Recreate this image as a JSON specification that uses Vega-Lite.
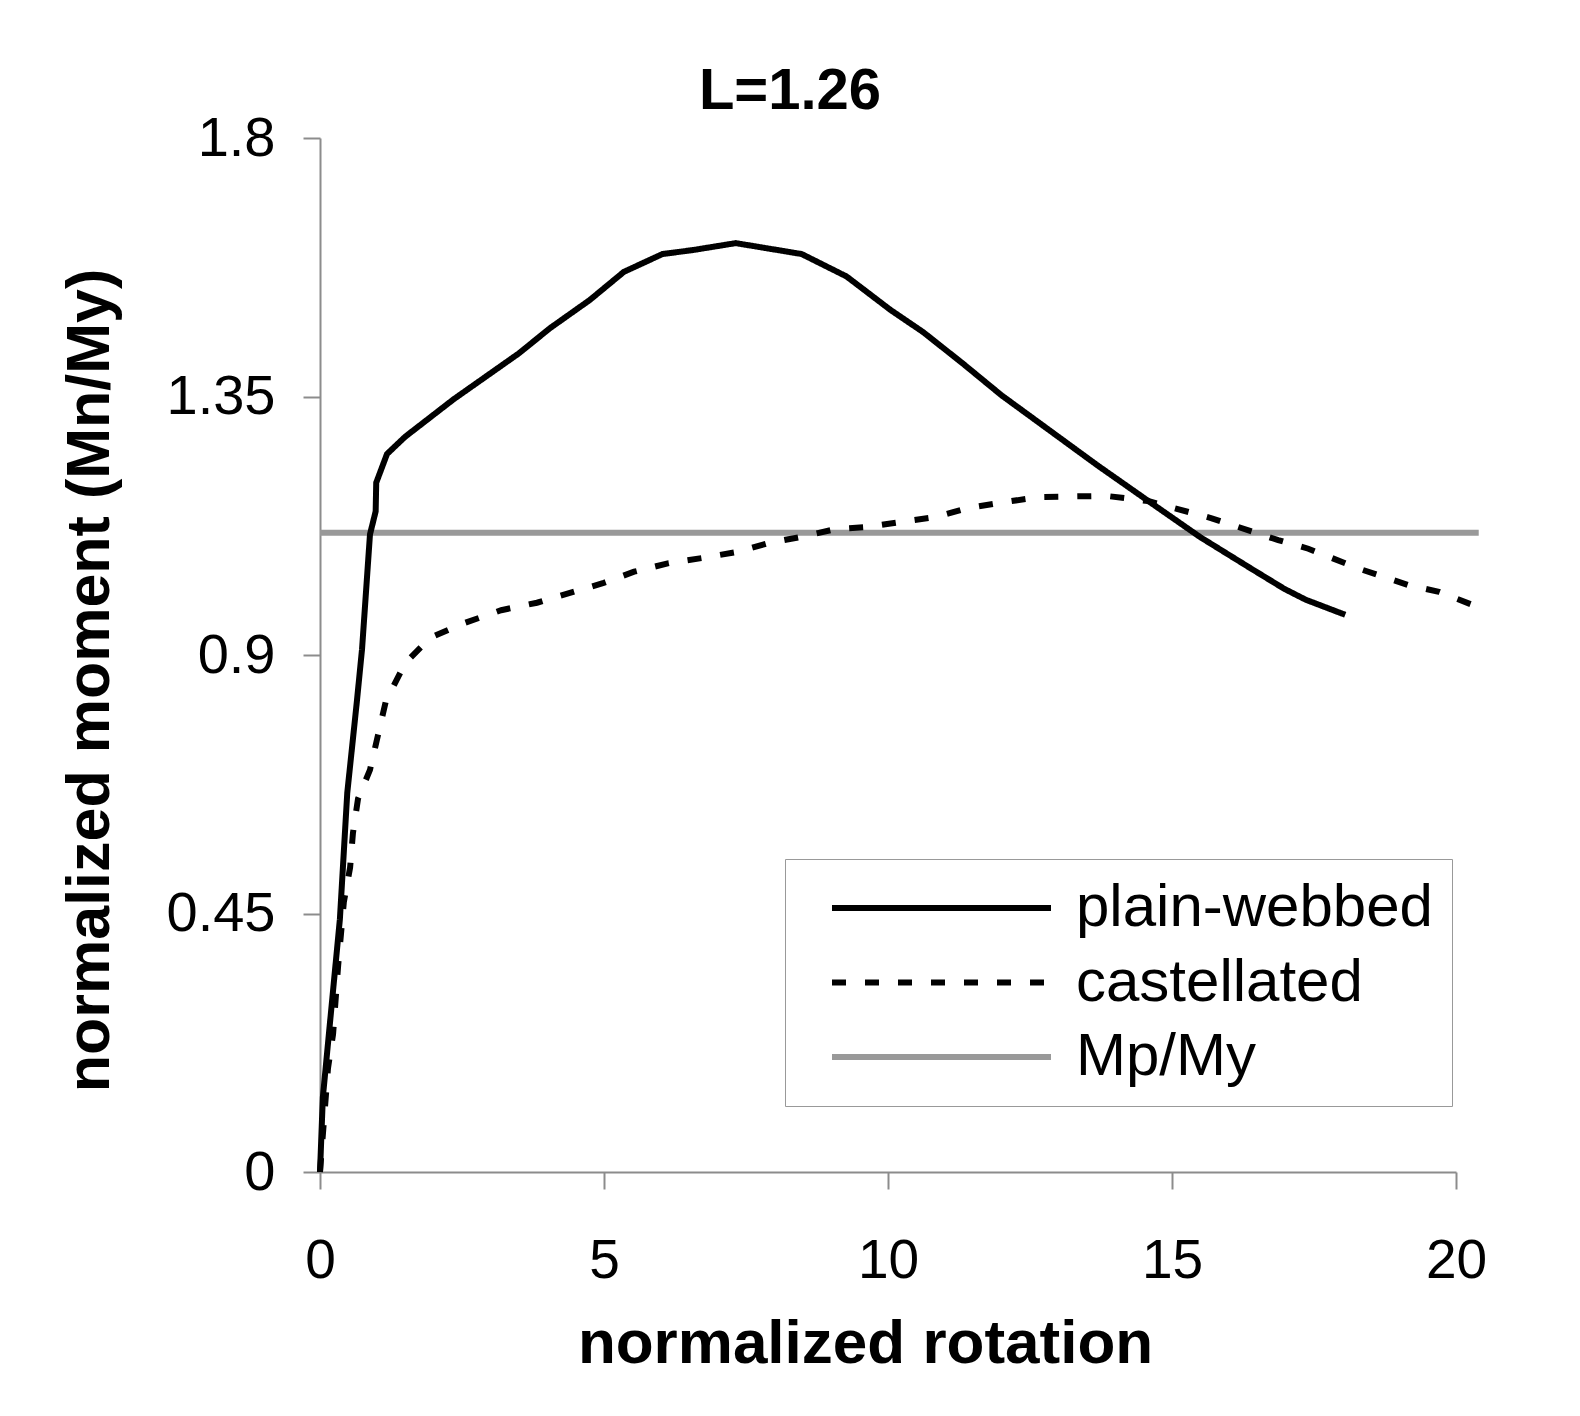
{
  "$schema": "https://vega.github.io/schema/vega-lite/v6.json",
  "autosize": "none",
  "width": 1136,
  "height": 1034,
  "padding": {"left": 320, "top": 138, "right": 124, "bottom": 244},
  "background": "white",
  "title": {"text": "L=1.26", "fontSize": 58, "font": "Liberation Sans", "fontWeight": "bold", "color": "black", "anchor": "middle", "dx": -98, "dy": 84, "offset": 27, "baseline": "alphabetic"},
  "data": {"values": [
    {"series": "Mp/My", "rotation": 0, "moment": 1.113},
    {"series": "Mp/My", "rotation": 20.4, "moment": 1.113},
    {"series": "plain-webbed", "rotation": 0, "moment": 0},
    {"series": "plain-webbed", "rotation": 0.05, "moment": 0.13},
    {"series": "plain-webbed", "rotation": 0.35, "moment": 0.44},
    {"series": "plain-webbed", "rotation": 0.48, "moment": 0.66},
    {"series": "plain-webbed", "rotation": 0.65, "moment": 0.82},
    {"series": "plain-webbed", "rotation": 0.74, "moment": 0.91},
    {"series": "plain-webbed", "rotation": 0.88, "moment": 1.11},
    {"series": "plain-webbed", "rotation": 0.98, "moment": 1.15},
    {"series": "plain-webbed", "rotation": 0.99, "moment": 1.2},
    {"series": "plain-webbed", "rotation": 1.18, "moment": 1.25},
    {"series": "plain-webbed", "rotation": 1.5, "moment": 1.28},
    {"series": "plain-webbed", "rotation": 2.35, "moment": 1.345},
    {"series": "plain-webbed", "rotation": 3.5, "moment": 1.425},
    {"series": "plain-webbed", "rotation": 4.05, "moment": 1.469},
    {"series": "plain-webbed", "rotation": 4.75, "moment": 1.518},
    {"series": "plain-webbed", "rotation": 5.35, "moment": 1.567},
    {"series": "plain-webbed", "rotation": 6.03, "moment": 1.598},
    {"series": "plain-webbed", "rotation": 6.57, "moment": 1.605},
    {"series": "plain-webbed", "rotation": 7.32, "moment": 1.617},
    {"series": "plain-webbed", "rotation": 8.48, "moment": 1.598},
    {"series": "plain-webbed", "rotation": 9.27, "moment": 1.559},
    {"series": "plain-webbed", "rotation": 10.04, "moment": 1.501},
    {"series": "plain-webbed", "rotation": 10.62, "moment": 1.462},
    {"series": "plain-webbed", "rotation": 11.31, "moment": 1.408},
    {"series": "plain-webbed", "rotation": 12.0, "moment": 1.352},
    {"series": "plain-webbed", "rotation": 13.69, "moment": 1.23},
    {"series": "plain-webbed", "rotation": 14.7, "moment": 1.16},
    {"series": "plain-webbed", "rotation": 15.5, "moment": 1.105},
    {"series": "plain-webbed", "rotation": 16.4, "moment": 1.05},
    {"series": "plain-webbed", "rotation": 16.98, "moment": 1.015},
    {"series": "plain-webbed", "rotation": 17.36, "moment": 0.996},
    {"series": "plain-webbed", "rotation": 18.05, "moment": 0.97},
    {"series": "castellated", "rotation": 0, "moment": 0},
    {"series": "castellated", "rotation": 0.14, "moment": 0.18},
    {"series": "castellated", "rotation": 0.23, "moment": 0.24},
    {"series": "castellated", "rotation": 0.32, "moment": 0.36},
    {"series": "castellated", "rotation": 0.42, "moment": 0.47},
    {"series": "castellated", "rotation": 0.53, "moment": 0.53},
    {"series": "castellated", "rotation": 0.58, "moment": 0.59},
    {"series": "castellated", "rotation": 0.67, "moment": 0.65},
    {"series": "castellated", "rotation": 0.88, "moment": 0.7},
    {"series": "castellated", "rotation": 1.02, "moment": 0.76},
    {"series": "castellated", "rotation": 1.16, "moment": 0.82},
    {"series": "castellated", "rotation": 1.5, "moment": 0.886},
    {"series": "castellated", "rotation": 1.94, "moment": 0.93},
    {"series": "castellated", "rotation": 2.55, "moment": 0.956},
    {"series": "castellated", "rotation": 3.19, "moment": 0.978},
    {"series": "castellated", "rotation": 3.82, "moment": 0.991},
    {"series": "castellated", "rotation": 4.4, "moment": 1.008},
    {"series": "castellated", "rotation": 4.98, "moment": 1.025},
    {"series": "castellated", "rotation": 5.53, "moment": 1.045},
    {"series": "castellated", "rotation": 6.14, "moment": 1.06},
    {"series": "castellated", "rotation": 6.74, "moment": 1.069},
    {"series": "castellated", "rotation": 7.32, "moment": 1.079},
    {"series": "castellated", "rotation": 7.9, "moment": 1.095},
    {"series": "castellated", "rotation": 8.49, "moment": 1.106},
    {"series": "castellated", "rotation": 9.07, "moment": 1.119},
    {"series": "castellated", "rotation": 9.65, "moment": 1.123},
    {"series": "castellated", "rotation": 10.25, "moment": 1.132},
    {"series": "castellated", "rotation": 10.83, "moment": 1.14},
    {"series": "castellated", "rotation": 11.41, "moment": 1.156},
    {"series": "castellated", "rotation": 12.04, "moment": 1.166},
    {"series": "castellated", "rotation": 12.66, "moment": 1.175},
    {"series": "castellated", "rotation": 13.84, "moment": 1.177},
    {"series": "castellated", "rotation": 14.58, "moment": 1.168},
    {"series": "castellated", "rotation": 15.7, "moment": 1.138},
    {"series": "castellated", "rotation": 16.87, "moment": 1.1},
    {"series": "castellated", "rotation": 17.4, "moment": 1.085},
    {"series": "castellated", "rotation": 18.3, "moment": 1.05},
    {"series": "castellated", "rotation": 19.15, "moment": 1.022},
    {"series": "castellated", "rotation": 19.7, "moment": 1.01},
    {"series": "castellated", "rotation": 20.4, "moment": 0.983}
  ]},
  "mark": {"type": "line", "strokeWidth": 6, "clip": false, "strokeCap": "butt"},
  "encoding": {
    "x": {
      "field": "rotation", "type": "quantitative",
      "scale": {"domain": [0, 20], "nice": false, "zero": true},
      "axis": {
        "values": [0, 5, 10, 15, 20], "format": "d", "grid": false,
        "title": "normalized rotation",
        "tickSize": 17, "tickWidth": 2, "tickColor": "#8c8c8c",
        "domainColor": "#8c8c8c", "domainWidth": 2,
        "labelFont": "Liberation Sans", "labelFontSize": 55, "labelColor": "black", "labelPadding": 45,
        "labelFlush": false, "labelOverlap": false,
        "titleFont": "Liberation Sans", "titleFontSize": 62, "titleFontWeight": "bold", "titleColor": "black",
        "titleX": 545, "titleY": 190, "titleBaseline": "alphabetic", "titleAlign": "center"
      }
    },
    "y": {
      "field": "moment", "type": "quantitative",
      "scale": {"domain": [0, 1.8], "nice": false},
      "axis": {
        "values": [0, 0.45, 0.9, 1.35, 1.8], "format": ".2~f", "grid": false,
        "title": "normalized moment (Mn/My)",
        "tickSize": 17, "tickWidth": 2, "tickColor": "#8c8c8c",
        "domainColor": "#8c8c8c", "domainWidth": 2,
        "labelFont": "Liberation Sans", "labelFontSize": 56, "labelColor": "black", "labelPadding": 28,
        "labelFlush": false, "labelOverlap": false,
        "titleFont": "Liberation Sans", "titleFontSize": 61, "titleFontWeight": "bold", "titleColor": "black",
        "titleX": -212, "titleY": 542, "titleAngle": 270, "titleBaseline": "alphabetic", "titleAlign": "center"
      }
    },
    "color": {
      "field": "series", "type": "nominal",
      "scale": {"domain": ["plain-webbed", "castellated", "Mp/My"], "range": ["#000000", "#000000", "#999999"]},
      "legend": {"title": null}
    },
    "strokeDash": {
      "field": "series", "type": "nominal",
      "scale": {"domain": ["plain-webbed", "castellated", "Mp/My"], "range": [[1, 0], [14, 19], [1, 0]]},
      "legend": {"title": null}
    }
  },
  "config": {
    "view": {"stroke": null},
    "legend": {
      "orient": "none", "legendX": 465, "legendY": 721,
      "symbolType": "stroke", "symbolSize": 47961, "symbolStrokeWidth": 6,
      "clipHeight": 60, "rowPadding": 14.5,
      "labelFont": "Liberation Sans", "labelFontSize": 60, "labelColor": "black", "labelLimit": 0,
      "labelOffset": 22, "symbolOffset": 25, "padding": 19,
      "strokeColor": "#999999", "fillColor": "white"
    }
  }
}
